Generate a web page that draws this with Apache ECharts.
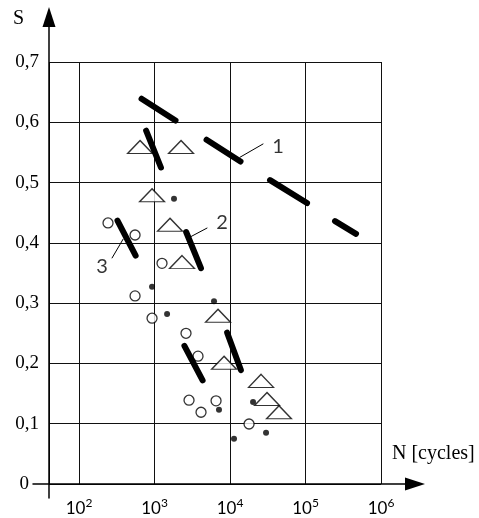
<!DOCTYPE html>
<html>
<head>
<meta charset="utf-8">
<script src="https://cdn.jsdelivr.net/npm/echarts@6/dist/echarts.min.js"></script>
<style>
html, body { margin: 0; padding: 0; background: #fff; }
#main { width: 479px; height: 518px; }
</style>
</head>
<body>
<div id="main"></div>
<script>
// points: [N cycles, S]
var triangles = [[643, 0.559], [2244, 0.559], [927, 0.479], [1603, 0.430], [2312, 0.368],
    [6934, 0.279], [8340, 0.201], [25760, 0.171], [30900, 0.141], [44550, 0.119]];
var circles = [[242, 0.433], [552, 0.413], [1256, 0.366], [552, 0.312], [927, 0.275], [2612, 0.250],
    [3767, 0.212], [2864, 0.139], [4130, 0.119], [6530, 0.138], [17870, 0.0995]];
var dots = [[1812, 0.473], [927, 0.327], [1466, 0.282], [6137, 0.303], [7140, 0.123],
    [11300, 0.075], [20180, 0.136], [30000, 0.085]];

// dashed curves, one pair per dash
var curve1 = [[[673, 0.639], [1897, 0.603]], [[4887, 0.571], [13770, 0.535]],
    [[33880, 0.504], [104700, 0.466]], [[246000, 0.436], [466600, 0.415]]];
var curve2 = [[[774, 0.586], [1216, 0.525]], [[2624, 0.418], [4121, 0.358]], [[9162, 0.251], [13930, 0.189]]];
var curve3 = [[[323, 0.437], [562, 0.379]], [[2489, 0.229], [4335, 0.172]]];

// curve numbers and their leader lines
var leaders = [[[13550, 0.542], [27350, 0.564]], [[4955, 0.4245], [2951, 0.4096]], [[274, 0.375], [383, 0.406]]];
var curveNames = [[43250, 0.559, '1'], [7834, 0.4345, '2'], [202, 0.360, '3']];

function segs(list) {
    var out = [];
    for (var i = 0; i < list.length; i++) {
        if (i > 0) out.push('-');
        out.push(list[i][0], list[i][1]);
    }
    return out;
}

var dom = document.getElementById('main');
var myChart = echarts.init(dom);

function dashLine(data, w) {
    return {
        type: 'line',
        xAxisIndex: 0, yAxisIndex: 0,
        data: segs(data),
        showSymbol: false,
        connectNulls: false,
        silent: true,
        lineStyle: { color: '#000', width: w, cap: 'round' },
        z: 5
    };
}

var option = {
    animation: false,
    grid: [
        { left: 49, top: 62, right: 98, bottom: 34 },
        { left: 33, top: 17, right: 64, bottom: 20 }
    ],
    xAxis: [
        {
            gridIndex: 0,
            type: 'log',
            logBase: 10,
            min: 40,
            max: 1000000,
            axisLine: { show: false },
            axisTick: { show: false },
            splitLine: { show: true, lineStyle: { color: '#111', width: 1 } },
            axisLabel: {
                margin: 13,
                formatter: function (v) {
                    var l = Math.log10(v);
                    var e = Math.round(l);
                    if (Math.abs(l - e) > 1e-6) return '';
                    return '{b|10}{s|' + e + '}';
                },
                rich: {
                    b: { fontFamily: 'Lato', fontSize: 17, color: '#000', lineHeight: 24 },
                    s: { fontFamily: 'Lato', fontSize: 12, color: '#000', lineHeight: 14, verticalAlign: 'top' }
                }
            }
        },
        {
            gridIndex: 1,
            type: 'value',
            min: -16,
            max: 366,
            axisLine: {
                onZero: true,
                symbol: ['none', 'triangle'],
                symbolSize: [13, 20],
                lineStyle: { color: '#000', width: 1.5 }
            },
            axisTick: { show: false },
            axisLabel: { show: false },
            splitLine: { show: false }
        }
    ],
    yAxis: [
        {
            gridIndex: 0,
            type: 'value',
            min: 0,
            max: 0.7,
            interval: 0.1,
            axisLine: { show: false },
            axisTick: { show: false },
            splitLine: { show: true, lineStyle: { color: '#111', width: 1 } },
            axisLabel: {
                margin: 10,
                fontFamily: 'Liberation Serif',
                fontSize: 19,
                color: '#000',
                formatter: function (v) {
                    if (v === 0) return '{z|0}';
                    return v.toFixed(1).replace('.', ',');
                },
                rich: {
                    z: { fontFamily: 'Liberation Serif', fontSize: 19, color: '#000', padding: [0, 10, 0, 0] }
                }
            }
        },
        {
            gridIndex: 1,
            type: 'value',
            min: -14,
            max: 467,
            axisLine: {
                onZero: true,
                symbol: ['none', 'triangle'],
                symbolSize: [13, 20],
                lineStyle: { color: '#000', width: 1.5 }
            },
            axisTick: { show: false },
            axisLabel: { show: false },
            splitLine: { show: false }
        }
    ],
    graphic: [
        { type: 'text', left: 13, top: 9, style: { text: 'S', font: '20px "Liberation Serif"', fill: '#000' } },
        { type: 'text', left: 392, top: 444, style: { text: 'N [cycles]', font: '20px "Liberation Serif"', fill: '#000' } }
    ],
    series: [
        dashLine(curve1, 6),
        dashLine(curve2, 6),
        dashLine(curve3, 6),
        dashLine(leaders, 1),
        {
            type: 'scatter',
            data: triangles,
            symbol: 'triangle',
            symbolSize: [25, 13],
            itemStyle: { color: '#fff', borderColor: '#000', borderWidth: 1.3 },
            z: 4
        },
        {
            type: 'scatter',
            data: circles,
            symbol: 'circle',
            symbolSize: 10,
            itemStyle: { color: '#fff', borderColor: '#000', borderWidth: 1.3 },
            z: 4
        },
        {
            type: 'scatter',
            data: dots,
            symbol: 'circle',
            symbolSize: 6,
            itemStyle: { color: '#000' },
            z: 4
        },
        {
            type: 'scatter',
            data: curveNames,
            symbolSize: 1,
            itemStyle: { color: 'rgba(0,0,0,0)' },
            label: {
                show: true,
                position: 'inside',
                formatter: function (p) { return p.value[2]; },
                fontFamily: 'Lato',
                fontSize: 20,
                color: '#000'
            },
            z: 6
        }
    ]
};

myChart.setOption(option);
</script>
</body>
</html>
